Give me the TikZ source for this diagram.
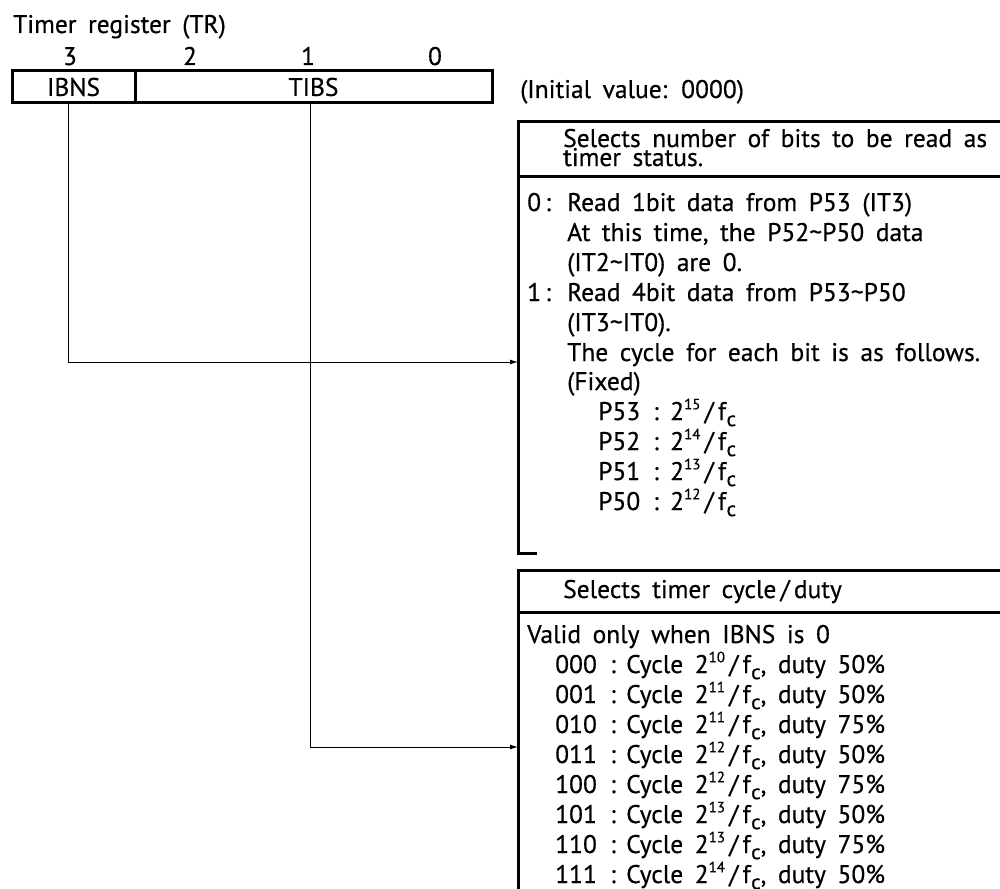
\documentclass[tikz,border=0pt]{standalone}
\usepackage{fontspec}
\setmainfont{PT Sans}[WordSpace=1.7, FakeBold=0.5]
\usetikzlibrary{arrows.meta}
\newcommand\mysup[1]{\raisebox{0.42em}{\fontsize{15}{15}\selectfont #1}}
\newcommand\myfc{f\kern0.02em\raisebox{-0.24em}{\fontsize{21}{21}\selectfont c}}
\newcommand\myfrac[1]{2\mysup{#1}\,/\,\myfc}
\begin{document}
\begin{tikzpicture}[x=1pt,y=-1pt,
  txt/.style={font=\fontsize{25.5}{25.5}\selectfont, anchor=base west, inner sep=0pt},
  bitno/.style={font=\fontsize{25.5}{25.5}\selectfont, anchor=base, inner sep=0pt},
  field/.style={draw, line width=3pt, minimum height=32pt, inner sep=0pt, font=\fontsize{25.5}{25.5}\selectfont},
  frame/.style={line width=3pt},
  conn/.style={line width=1pt, -{Latex[length=8pt,width=5pt]}}]
\useasboundingbox (0,0) rectangle (1000,888);
% title and bit numbers
\node[txt] (title) at (13,33) {Timer register (TR)};
\node[bitno] (b3) at (70,65) {3};
\node[bitno] (b2) at (190,65) {2};
\node[bitno] (b1) at (308,65) {1};
\node[bitno] (b0) at (435,65) {0};
% register fields
\node[field, minimum width=123pt] (ibns) at (73.5,87) {IBNS};
\node[field, minimum width=357pt] (tibs) at (313.5,87) {TIBS};
\node[txt] (init) at (520,98) {(Initial value: 0000)};
% box 1
\draw[frame] (1003,121) -- (518,121) -- (518,553) -- (537,553);
\draw[frame] (518,176) -- (1003,176);
\node[txt] (h1a) at (563,147) {Selects number of bits to be read as};
\node[txt] (h1b) at (563,166) {timer status.};
\node[txt] (k0n) at (527,211) {0\,:};
\node[txt] (k0) at (567,211) {Read 1bit data from P53 (IT3)};
\node[txt] (k1) at (567,241) {At this time, the P52\char`~P50 data};
\node[txt] (k2) at (567,271) {(IT2\char`~IT0) are 0.};
\node[txt] (k3n) at (527,301) {1\,:};
\node[txt] (k3) at (567,301) {Read 4bit data from P53\char`~P50};
\node[txt] (k4) at (567,331) {(IT3\char`~IT0).};
\node[txt] (k5) at (567,361) {The cycle for each bit is as follows.};
\node[txt] (k6) at (567,390) {(Fixed)};
\foreach \p/\e/\i in {P53/15/0,P52/14/1,P51/13/2,P50/12/3}{
  \node[txt] (p\i) at (598,420+30*\i) {\p};
  \node[txt] (pc\i) at (653,420+30*\i) {:};
  \node[txt] (pv\i) at (670,420+30*\i) {\myfrac{\e}};
}
% box 2
\draw[frame] (1003,570) -- (518,570) -- (518,890);
\draw[frame] (518,612) -- (1003,612);
\node[txt] (h2) at (563,598) {Selects timer cycle\,/\,duty};
\node[txt] (valid) at (527,643) {Valid only when IBNS is 0};
\foreach \c/\e/\d/\i in {000/10/50/0,001/11/50/1,010/11/75/2,011/12/50/3,100/12/75/4,101/13/50/5,110/13/75/6,111/14/50/7}{
  \node[txt] (c\i) at (555,673+30*\i) {\c};
  \node[txt] (cc\i) at (610,673+30*\i) {:};
  \node[txt] (cv\i) at (626,673+30*\i) {Cycle \myfrac{\e}, duty \d\%};
}
% connectors
\coordinate (in1) at (518,362);
\coordinate (in2) at (518,747);
\draw[conn] ([xshift=-5.5pt]ibns.south) |- (in1);
\draw[conn] ([xshift=-3.5pt]tibs.south) |- (in2);
\end{tikzpicture}
\end{document}
